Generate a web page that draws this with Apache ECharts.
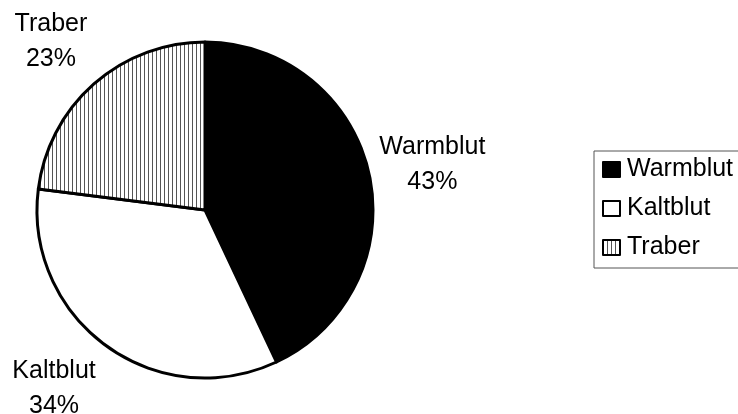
<!DOCTYPE html>
<html>
<head>
<meta charset="utf-8">
<script src="https://cdn.jsdelivr.net/npm/echarts@6/dist/echarts.min.js"></script>
<style>
  html, body { margin: 0; padding: 0; background: #fff; }
  #chart { width: 738px; height: 414px; }
</style>
</head>
<body>
<div id="chart"></div>
<script>
// Horse breeds, share of the total (percent)
const categories = ['Warmblut', 'Kaltblut', 'Traber'];
const shares = [43, 34, 23];

// Small per-label nudges (px) applied after the ring placement
const labelNudge = [[0, 5], [-14, -10], [0, 6]];

// Vertical hatching used for the "Traber" slice
function hatchPattern() {
  const c = document.createElement('canvas');
  c.width = 4; c.height = 4;
  const g = c.getContext('2d');
  g.fillStyle = '#fff';
  g.fillRect(0, 0, 4, 4);
  g.fillStyle = '#555';
  g.fillRect(0, 0, 1, 4);
  return c;
}
const hatch = { image: hatchPattern(), repeat: 'repeat' };
const fills = ['#000', '#fff', hatch];

const FONT = '"Liberation Sans", Arial, Helvetica, sans-serif';
const center = [205, 210];

const sliceData = categories.map((name, i) => ({
  name, value: shares[i], itemStyle: { color: fills[i] }
}));
const labelData = categories.map((name, i) => ({ name, value: shares[i] }));

const chart = echarts.init(document.getElementById('chart'), null, { renderer: 'canvas' });
chart.setOption({
  backgroundColor: '#fff',
  animation: false,
  legend: {
    orient: 'vertical',
    left: 594,
    top: 151,
    padding: [6, 40, 8, 8],
    itemGap: 14,
    itemWidth: 17,
    itemHeight: 15,
    icon: 'rect',
    borderColor: '#555',
    borderWidth: 1,
    data: categories,
    itemStyle: { borderColor: '#000', borderWidth: 2 },
    textStyle: { fontFamily: FONT, fontSize: 25, color: '#000', padding: [0, 0, 0, 2] }
  },
  series: [
    {
      type: 'pie',
      center: center,
      radius: 168,
      startAngle: 90,
      clockwise: true,
      silent: true,
      label: { show: false },
      labelLine: { show: false },
      itemStyle: { borderColor: '#000', borderWidth: 3 },
      data: sliceData
    },
    {
      // invisible ring that only carries the outer category labels
      type: 'pie',
      center: center,
      radius: [230, 230],
      startAngle: 90,
      clockwise: true,
      silent: true,
      itemStyle: { color: 'transparent', borderWidth: 0 },
      labelLine: { show: false },
      label: {
        show: true,
        position: 'inside',
        formatter: '{a|{b}}\n{a|{c}%}',
        rich: {
          a: { fontFamily: FONT, fontSize: 25, lineHeight: 35, color: '#000', align: 'center' }
        }
      },
      labelLayout: function (p) {
        const n = labelNudge[p.dataIndex];
        return { dx: n[0], dy: n[1] };
      },
      data: labelData
    }
  ]
});
</script>
</body>
</html>
